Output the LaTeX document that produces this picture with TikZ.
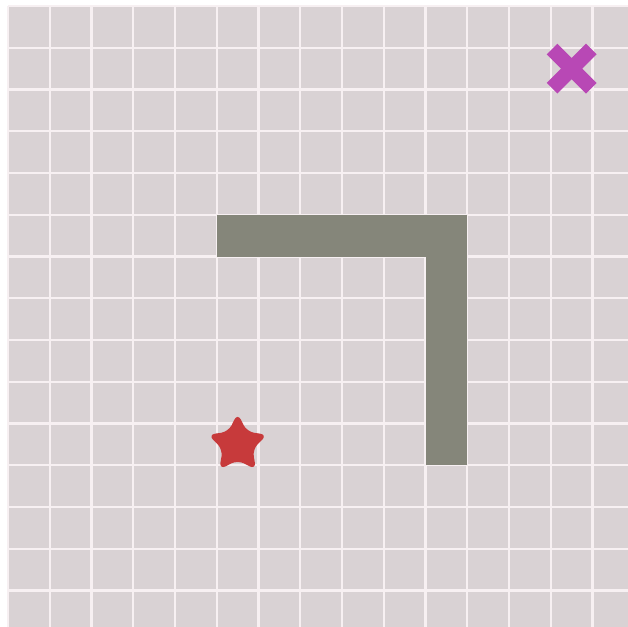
\documentclass[tikz,border=0pt]{standalone}
\usepackage{tikz}
\usetikzlibrary{shapes.geometric,shapes.misc}
\definecolor{floorcol}{HTML}{D9D2D4}
\definecolor{linecol}{HTML}{F7F0F2}
\definecolor{wallcol}{HTML}{85867A}
\definecolor{goalcol}{HTML}{C73A3B}
\definecolor{startcol}{HTML}{B848B5}
\tikzset{
  gridline/.style={draw=linecol, line width=0.05cm},
  goalmark/.style={star, star points=5, star point ratio=2.0, fill=goalcol,
    minimum size=1.5cm, inner sep=0pt, rounded corners=5pt},
  startmark/.style={cross out, draw=startcol, line width=0.36cm,
    minimum size=0.94cm, inner sep=0pt, outer sep=0pt}
}
\begin{document}
\begin{tikzpicture}
        \useasboundingbox (-0.192,0.126) rectangle (14.85,15.144);
        \fill[white] (-0.192,0.126) rectangle (14.85,15.144);
        % Floor
        \fill[floorcol] (0,0) rectangle (15,15);
        \draw[gridline] (0,0) grid (15,15);
        % Wall
        \fill[wallcol] (5,9) rectangle (11,10);
        \fill[wallcol] (10,4) rectangle (11,10);
        % Goal and start
        \node[goalmark] (goal) at (5.5,4.5) {};
        \node[startmark] (start) at (13.5,13.5) {};
\end{tikzpicture}
\end{document}
